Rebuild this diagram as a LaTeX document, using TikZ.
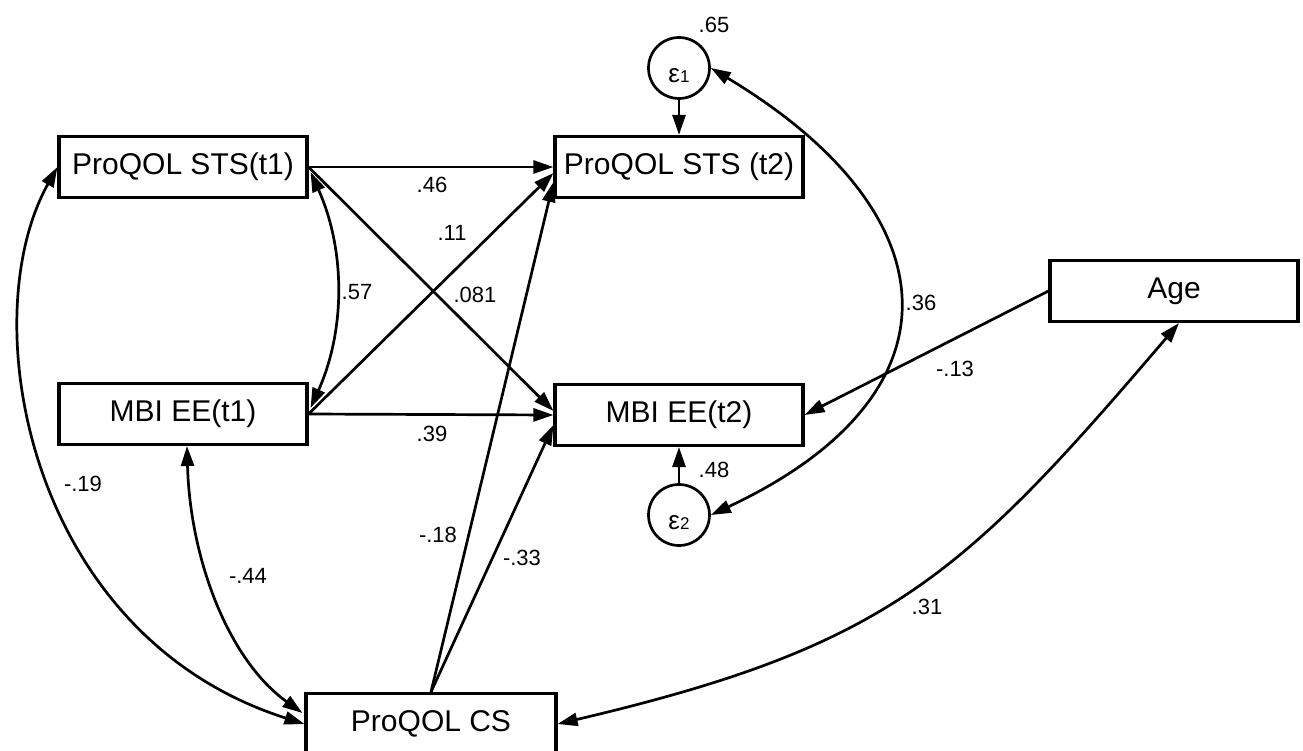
\documentclass[tikz,border=0pt]{standalone}
\usepackage{fontspec}
\setmainfont{Liberation Sans}
\usetikzlibrary{arrows.meta,calc}
\begin{document}
\begin{tikzpicture}[x=1pt,y=-1pt]
\tikzset{
 varbox/.style={draw, line width=3.1pt, minimum width=248pt, minimum height=61pt, inner sep=0pt, font=\fontsize{30}{30}\selectfont},
 errc/.style={draw, circle, line width=2.7pt, minimum size=61pt, inner sep=0pt, text height=29pt, text depth=0pt, font=\fontsize{26}{26}\selectfont},
 pth/.style={line width=2.7pt, -{Triangle[length=20pt,width=13pt]}},
 cov/.style={line width=2.7pt, {Triangle[length=20pt,width=13pt]}-{Triangle[length=20pt,width=13pt]}},
 coef/.style={font=\fontsize{22}{22}\selectfont, inner sep=0pt},
}
\clip (0,0) rectangle (1303,751);
\fill[white] (0,0) rectangle (1303,751);

% variables
\node[varbox] (STS1) at (183,167) {ProQOL STS(t1)};
\node[varbox] (MBI1) at (183,414) {MBI EE(t1)};
\node[varbox] (STS2) at (679,167) {ProQOL STS (t2)};
\node[varbox] (MBI2) at (679,415) {MBI EE(t2)};
\node[varbox] (Age) at (1174,291) {Age};
\node[varbox, minimum width=250pt] (CS) at (431,724) {ProQOL CS};
\node[errc] (e1) at (679,68) {ε\fontsize{17}{17}\selectfont 1};
\node[errc] (e2) at (679,515) {ε\fontsize{17}{17}\selectfont 2};

% paths
\draw[pth] (STS1.east) -- (STS2.west);
\draw[pth] (MBI1.east) -- (MBI2.west);
\draw[pth] (STS1.east) -- ($(MBI2.west)+(0,-4)$);
\draw[pth] (MBI1.east) -- ($(STS2.west)+(0,6)$);
\draw[pth] (CS.north) -- ($(STS2.west)+(0,15)$);
\draw[pth] (CS.north) -- ($(MBI2.west)+(0,10)$);
\draw[pth] (Age.west) -- (MBI2.east);
\draw[pth] (e1.south) -- (STS2.north);
\draw[pth] (e2.north) -- (MBI2.south);

% covariances
\draw[cov] ($(STS1.east)+(2,5)$) .. controls +(35,78) and +(35,-78) .. ($(MBI1.east)+(2,-6)$);
\draw[cov] (e1.east) .. controls +(243,146) and +(256,-120) .. (e2.east);
\draw[cov] (CS.east) .. controls +(332,-78) and +(-216,253) .. ($(Age.south)+(5,0)$);
\draw[cov] (STS1.west) .. controls +(-85,152) and +(-277,-88) .. (CS.west);
\draw[cov] ($(MBI1.south)+(4,0)$) .. controls +(3,113) and +(-74,-53) .. ($(CS.west)+(-2,-11)$);

% coefficients
\node[coef] (c65) at (714,25) {.65};
\node[coef] (c46) at (432,185) {.46};
\node[coef] (c11) at (452,233) {.11};
\node[coef] (c081) at (475,295) {.081};
\node[coef] (c57) at (357,292) {.57};
\node[coef] (c39) at (432,434) {.39};
\node[coef] (c36) at (921,303) {.36};
\node[coef] (c13) at (955,369) {-.13};
\node[coef] (c48) at (714,470) {.48};
\node[coef] (c18) at (438,535) {-.18};
\node[coef] (c33) at (522,558) {-.33};
\node[coef] (c31) at (927,607) {.31};
\node[coef] (c19) at (83,484) {-.19};
\node[coef] (c44) at (248,576) {-.44};
\end{tikzpicture}
\end{document}
